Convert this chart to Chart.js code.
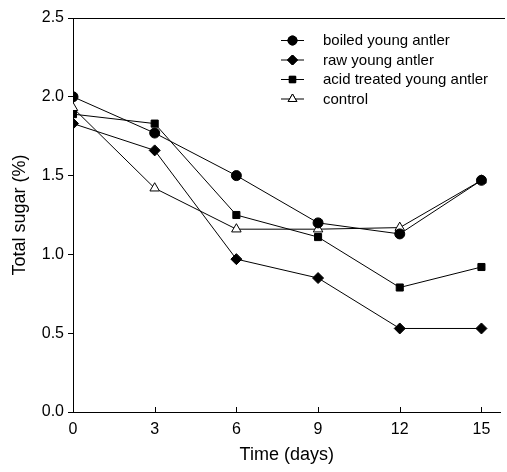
<!DOCTYPE html>
<html><head><meta charset="utf-8">
<script src="https://cdn.jsdelivr.net/npm/chart.js@4/dist/chart.umd.min.js"></script>
<style>html,body{margin:0;padding:0;background:#fff}#wrap{width:507px;height:472px}</style>
</head><body><div id="wrap"><canvas id="c" width="507" height="472"></canvas></div>
<script>
const days = [0, 3, 6, 9, 12, 15];
const boiled = [2.00, 1.77, 1.50, 1.20, 1.13, 1.47];
const raw = [1.83, 1.66, 0.97, 0.85, 0.53, 0.53];
const acid = [1.89, 1.83, 1.25, 1.11, 0.79, 0.92];
const control = [1.93, 1.42, 1.16, 1.16, 1.17, 1.47];
const seriesNames = ['boiled young antler', 'raw young antler', 'acid treated young antler', 'control'];
const xTicks = [0, 3, 6, 9, 12, 15];
const yTicks = [0.0, 0.5, 1.0, 1.5, 2.0, 2.5];

const FONT = 'Liberation Sans, Arial, sans-serif';
function pts(arr){ return days.map((d,i)=>({x:d,y:arr[i]})); }
function ds(label, arr, style, radius, fill){
  return {label, data: pts(arr), borderColor:'#000', borderWidth:1, pointStyle:style,
    pointRadius:radius, pointBackgroundColor: fill, pointBorderColor:'#000', pointBorderWidth:1, tension:0};
}
const datasets = [
  ds(seriesNames[0], boiled, 'circle', 5, '#000'),
  ds(seriesNames[1], raw, 'rectRot', 5.5, '#000'),
  ds(seriesNames[2], acid, 'rect', 5, '#000'),
  ds(seriesNames[3], control, 'triangle', 5.5, '#fff'),
];

const extras = {
  id:'extras',
  afterDraw(chart){
    const ctx = chart.ctx, a = chart.chartArea, xs = chart.scales.x;
    ctx.save();
    ctx.strokeStyle = '#000'; ctx.lineWidth = 1;
    ctx.beginPath(); ctx.moveTo(a.left, a.top+0.5); ctx.lineTo(505, a.top+0.5); ctx.stroke();
    xTicks.forEach(v=>{ const px = Math.round(xs.getPixelForValue(v))+0.5;
      ctx.beginPath(); ctx.moveTo(px, a.bottom); ctx.lineTo(px, a.bottom-5); ctx.stroke(); });
    const lx = 281, tx = 323; let ly = 40;
    chart.data.datasets.forEach((d,i)=>{
      ctx.strokeStyle='#000'; ctx.lineWidth=1;
      ctx.beginPath(); ctx.moveTo(lx, ly+0.5); ctx.lineTo(lx+23, ly+0.5); ctx.stroke();
      Chart.helpers.drawPoint(ctx, {pointStyle:d.pointStyle, radius:d.pointRadius-0.5, borderWidth:1}, lx+11.5, ly+0.5);
      ctx.fillStyle = d.pointBackgroundColor; ctx.fill(); ctx.stroke();
      ctx.fillStyle='#000'; ctx.font = '15px '+FONT; ctx.textBaseline='middle'; ctx.textAlign='left';
      ctx.fillText(d.label, tx, ly+1);
      ly += 19.5;
    });
    ctx.restore();
  }
};

new Chart(document.getElementById('c'), {
  type:'line',
  data:{datasets},
  plugins:[extras],
  options:{
    responsive:false, animation:false,
    layout:{padding:{top:18, right:0, left:0, bottom:0}},
    plugins:{legend:{display:false}, tooltip:{enabled:false}},
    scales:{
      x:{type:'linear', min:0, max:15.7,
        afterBuildTicks(s){ s.ticks = xTicks.map(v=>({value:v})); },
        afterFit(s){ s.height = 60; },
        grid:{display:false, drawTicks:false},
        border:{color:'#000', width:1},
        ticks:{color:'#000', font:{family:FONT, size:16}, padding:8, autoSkip:false, maxRotation:0,
          callback:v=>String(v)},
        title:{display:true, text:'Time (days)', color:'#000', font:{family:FONT, size:18}, padding:{top:6, bottom:6}}
      },
      y:{type:'linear', min:0, max:2.5,
        afterBuildTicks(s){ s.ticks = yTicks.map(v=>({value:v})); },
        afterFit(s){ s.width = 73; },
        grid:{drawOnChartArea:false, drawTicks:true, tickLength:5, color:'#000'},
        border:{color:'#000', width:1},
        ticks:{color:'#000', font:{family:FONT, size:16}, padding:4, callback:v=>v.toFixed(1)},
        title:{display:true, text:'Total sugar (%)', color:'#000', font:{family:FONT, size:18}, padding:{top:9, bottom:9}}
      }
    }
  }
});
</script></body></html>
